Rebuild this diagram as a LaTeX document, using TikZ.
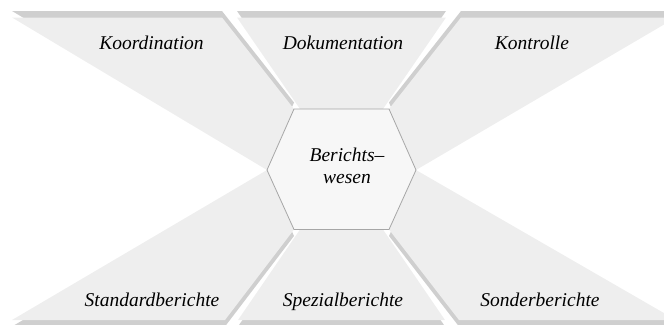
\documentclass[tikz,border=0pt]{standalone}
\usepackage{fontspec}
\setmainfont{Liberation Serif}
\definecolor{panelgray}{HTML}{EEEEEE}
\definecolor{shadowgray}{HTML}{CFCFCF}
\definecolor{hexfill}{HTML}{F7F7F7}
\definecolor{hexline}{HTML}{A6A6A6}
\begin{document}
\begin{tikzpicture}[x=1pt,y=-1pt,
  panel/.style={fill=panelgray},
  panelshadow/.style={fill=shadowgray},
  hexcore/.style={fill=hexfill, draw=hexline, line width=0.8pt, line join=miter},
  lbl/.style={font=\fontsize{19.5}{23}\selectfont\itshape, inner sep=0pt, anchor=base},
  corelbl/.style={font=\fontsize{19.5}{22}\selectfont\itshape, inner sep=0pt, align=center}]
\useasboundingbox (0,0) rectangle (664,324);

% hexagon corners
\coordinate (hTL) at (294,109);
\coordinate (hTR) at (389,109);
\coordinate (hR)  at (416,170);
\coordinate (hBR) at (389,229.5);
\coordinate (hBL) at (294,229.5);
\coordinate (hL)  at (267,170);
% inner corners of the two middle panels, tucked under the hexagon
\coordinate (dL) at (300,109);   \coordinate (dR) at (383,109);
\coordinate (pL) at (300,229.5); \coordinate (pR) at (383,229.5);

% outer corners of the six panels
\coordinate (kA) at (12,17.5);   \coordinate (kB) at (222,17.5);
\coordinate (dA) at (237,17.5);  \coordinate (dB) at (446,17.5);
\coordinate (cA) at (461,17.5);  \coordinate (cB) at (676,17.5);
\coordinate (sA) at (12,320);    \coordinate (sB) at (225,320);
\coordinate (pA) at (238,320);   \coordinate (pB) at (445,320);
\coordinate (oA) at (459,320);   \coordinate (oB) at (676,320);

% raised edges of the upper panels
\begin{scope}[transform canvas={yshift=6.5pt}]
  \fill[panelshadow] (kA) -- (kB) -- (hTL) -- (hL) -- cycle;
  \fill[panelshadow] (dA) -- (dB) -- (dR) -- (dL) -- cycle;
  \fill[panelshadow] (cA) -- (cB) -- (hR) -- (hTR) -- cycle;
\end{scope}
% lowered edges of the lower panels
\begin{scope}[transform canvas={yshift=-6.5pt}]
  \fill[panelshadow] (sA) -- (sB) -- (hBL) -- (hL) -- cycle;
  \fill[panelshadow] (pA) -- (pB) -- (pR) -- (pL) -- cycle;
  \fill[panelshadow] (oA) -- (oB) -- (hR) -- (hBR) -- cycle;
\end{scope}

% panel faces
\fill[panel] (kA) -- (kB) -- (hTL) -- (hL) -- cycle;
\fill[panel] (dA) -- (dB) -- (dR) -- (dL) -- cycle;
\fill[panel] (cA) -- (cB) -- (hR) -- (hTR) -- cycle;
\fill[panel] (sA) -- (sB) -- (hBL) -- (hL) -- cycle;
\fill[panel] (pA) -- (pB) -- (pR) -- (pL) -- cycle;
\fill[panel] (oA) -- (oB) -- (hR) -- (hBR) -- cycle;

% central hexagon
\draw[hexcore] (hTL) -- (hTR) -- (hR) -- (hBR) -- (hBL) -- (hL) -- cycle;

% labels
\node[lbl] (koord) at (151.5,49) {Koordination};
\node[lbl] (doku)  at (343,49)   {Dokumentation};
\node[lbl] (kontr) at (532,49)   {Kontrolle};
\node[lbl] (stand) at (152,306)  {Standardberichte};
\node[lbl] (spez)  at (343,306)  {Spezialberichte};
\node[lbl] (sonder) at (540,306) {Sonderberichte};
\node[corelbl] (core) at (347,166) {Berichts--\\wesen};
\end{tikzpicture}
\end{document}
